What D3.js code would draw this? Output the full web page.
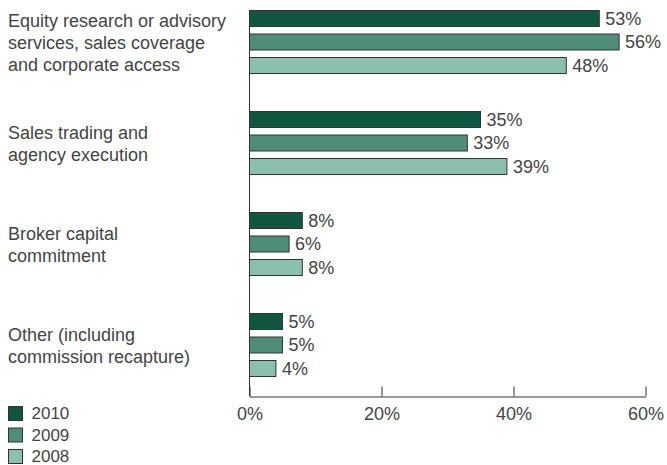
<!DOCTYPE html>
<html>
<head>
<meta charset="utf-8">
<script src="https://cdn.jsdelivr.net/npm/d3@7"></script>
<style>
  body { margin: 0; background: #fff; }
  svg text { font-family: "Liberation Sans", Arial, sans-serif; fill: #444; }
</style>
</head>
<body>
<div class="chart-box"></div>
<script>
let width = 667;
let height = 465;

let categories = [
  ["Equity research or advisory", "services, sales coverage", "and corporate access"],
  ["Sales trading and", "agency execution"],
  ["Broker capital", "commitment"],
  ["Other (including", "commission recapture)"]
];
let series = ["2010", "2009", "2008"];
let values2010 = [53, 35, 8, 5];
let values2009 = [56, 33, 6, 5];
let values2008 = [48, 39, 8, 4];
let xTicks = [0, 20, 40, 60];

let colors = ["#0f5740", "#4f8c7a", "#8bbfae"];
let allValues = [values2010, values2009, values2008];

let svg = d3.select('.chart-box')
  .append('svg')
  .attr('width', width)
  .attr('height', height);

let x = d3.scaleLinear().domain([0, 60]).range([249.5, 645.5]);

let y0 = d3.scaleBand()
  .domain(d3.range(categories.length))
  .range([10.5, 376.5])
  .paddingInner(38 / 101)
  .paddingOuter(0);

let y1 = d3.scaleBand()
  .domain(series)
  .range([0, y0.bandwidth()])
  .paddingInner(7.5 / 23.5)
  .paddingOuter(0);

let color = d3.scaleOrdinal().domain(series).range(colors);

// bars
let groups = svg.append("g")
  .selectAll("g")
  .data(categories)
  .enter()
  .append("g")
  .attr("transform", (d, i) => `translate(0,${y0(i)})`);

groups.selectAll("rect")
  .data((d, i) => series.map((s, j) => ({ s: s, v: allValues[j][i] })))
  .enter()
  .append("rect")
  .attr("x", x(0))
  .attr("y", d => y1(d.s))
  .attr("width", d => x(d.v) - x(0))
  .attr("height", y1.bandwidth())
  .style("fill", d => color(d.s))
  .style("stroke", "#333")
  .style("stroke-width", 1);

groups.selectAll("text.value")
  .data((d, i) => series.map((s, j) => ({ s: s, v: allValues[j][i] })))
  .enter()
  .append("text")
  .attr("class", "value")
  .attr("x", d => x(d.v) + 6)
  .attr("y", d => y1(d.s) + y1.bandwidth() / 2)
  .attr("dy", "0.36em")
  .style("font-size", "18px")
  .text(d => d.v + "%");

// category labels
groups.append("text")
  .attr("x", 8)
  .attr("y", d => y0.bandwidth() / 2 + 1 - (d.length - 1) * 11)
  .style("font-size", "18px")
  .selectAll("tspan")
  .data(d => d)
  .enter()
  .append("tspan")
  .attr("x", 8)
  .attr("dy", (d, i) => i == 0 ? "0.36em" : 22)
  .text(d => d);

// axes
let axisY = 396.5;
svg.append("line")
  .attr("x1", x(0)).attr("x2", x(0))
  .attr("y1", 10).attr("y2", axisY)
  .style("stroke", "#333");

let xAxis = svg.append("g")
  .attr("transform", `translate(0,${axisY})`)
  .call(d3.axisBottom(x).tickValues(xTicks).tickSizeInner(-10).tickSizeOuter(0).tickFormat(d => d + "%"));
xAxis.select(".domain").style("stroke", "#333");
xAxis.selectAll(".tick line").style("stroke", "#333");
xAxis.selectAll(".tick text")
  .attr("y", 17)
  .attr("dy", "0.36em")
  .style("font-size", "18px")
  .style("font-family", '"Liberation Sans", Arial, sans-serif')
  .style("fill", "#444");

// legend
let legend = svg.append("g")
  .selectAll("g")
  .data(series)
  .enter()
  .append("g")
  .attr("transform", (d, i) => `translate(8.5,${406.5 + i * 21.5})`);

legend.append("rect")
  .attr("width", 14)
  .attr("height", 14)
  .style("fill", d => color(d))
  .style("stroke", "#333");

legend.append("text")
  .attr("x", 23)
  .attr("y", 7)
  .attr("dy", "0.34em")
  .style("font-size", "17px")
  .text(d => d);
</script>
</body>
</html>
